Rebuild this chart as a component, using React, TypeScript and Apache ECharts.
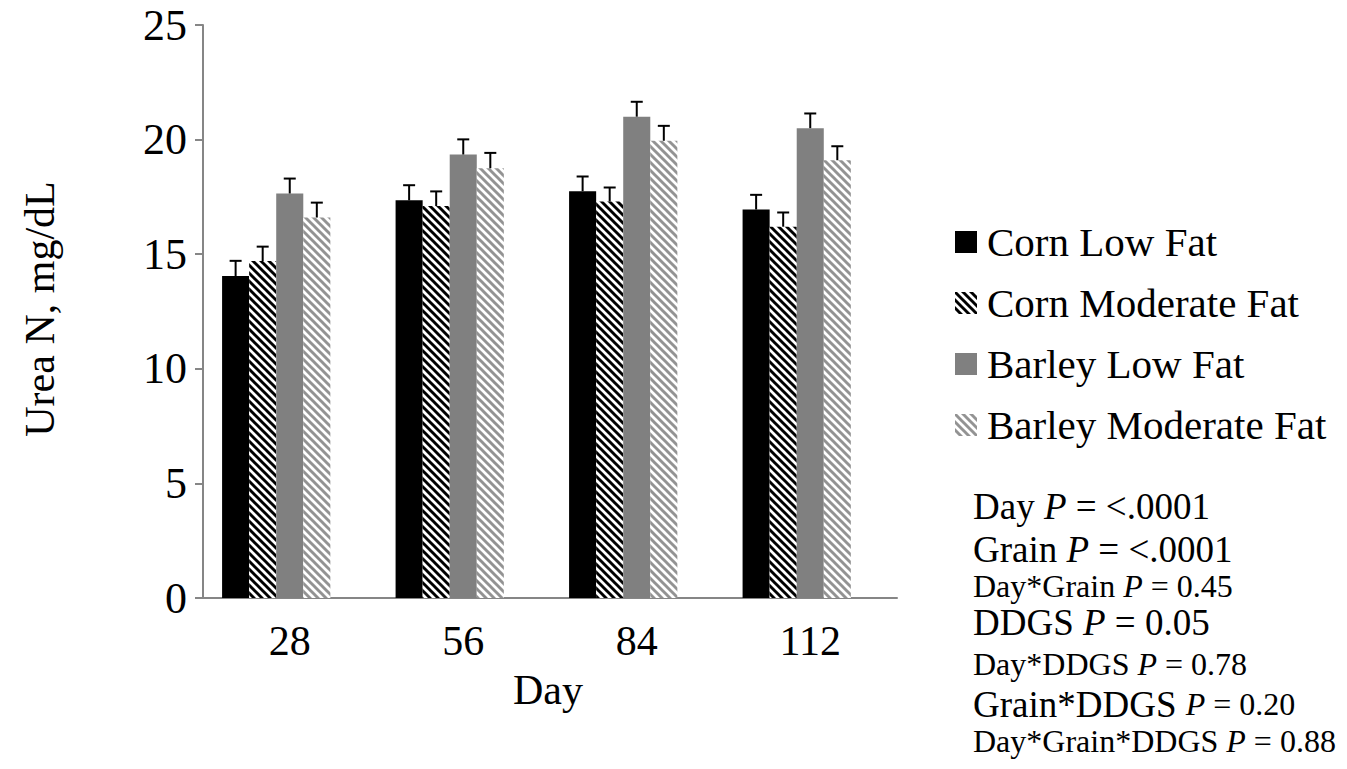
import React, { useEffect, useRef } from "react";
import * as echarts from "echarts";

const days = ["28", "56", "84", "112"];
const seriesNames = ["Corn Low Fat", "Corn Moderate Fat", "Barley Low Fat", "Barley Moderate Fat"];
const cornLow = [14.05, 17.35, 17.75, 16.95];
const cornMod = [14.7, 17.1, 17.3, 16.2];
const barleyLow = [17.65, 19.35, 21.0, 20.5];
const barleyMod = [16.6, 18.75, 19.95, 19.1];
const emptySlot = [null, null, null, null];
const seCornLow = [0.66, 0.66, 0.64, 0.64];
const seCornMod = [0.63, 0.64, 0.61, 0.62];
const seBarleyLow = [0.65, 0.66, 0.65, 0.64];
const seBarleyMod = [0.65, 0.67, 0.65, 0.61];
const yTicks = { min: 0, max: 25, interval: 5 };
const pLines = [
  { lead: "Day ", tail: " = <.0001", big: true, tailBig: true },
  { lead: "Grain ", tail: " = <.0001", big: true, tailBig: true },
  { lead: "Day*Grain ", tail: " = 0.45", big: false, tailBig: false },
  { lead: "DDGS ", tail: " = 0.05", big: true, tailBig: true },
  { lead: "Day*DDGS ", tail: " = 0.78", big: false, tailBig: false },
  { lead: "Grain*DDGS ", tail: " = 0.20", big: true, tailBig: false },
  { lead: "Day*Grain*DDGS ", tail: " = 0.88", big: false, tailBig: false },
];

const FONT = "Liberation Serif";
const CAT_GAP = 0.22;
const SLOTS = 5;

function stripe(color: string) {
  const svg =
    "<svg xmlns='http://www.w3.org/2000/svg' width='8' height='8'>" +
    "<rect width='8' height='8' fill='white'/>" +
    `<path d='M-2,-2 L10,10 M-10,-2 L2,10 M6,-2 L18,10' stroke='${color}' stroke-width='2.9'/>` +
    "</svg>";
  return {
    image: "data:image/svg+xml;utf8," + encodeURIComponent(svg),
    repeat: "repeat",
    imageWidth: 8,
    imageHeight: 8,
  } as any;
}

export default function App() {
  const ref = useRef<HTMLDivElement>(null);
  useEffect(() => {
    document.body.style.margin = "0";
    const chart = echarts.init(ref.current!, null, { renderer: "svg" });
    const values = [cornLow, cornMod, barleyLow, barleyMod];
    const ses = [seCornLow, seCornMod, seBarleyLow, seBarleyMod];
    const colors: any[] = ["#000000", stripe("#000000"), "#808080", stripe("#939393")];

    const bars: any[] = seriesNames.map((name, k) => ({
      type: "bar",
      name,
      data: values[k],
      barGap: "0%",
      barCategoryGap: CAT_GAP * 100 + "%",
      itemStyle: { color: colors[k] },
      z: 2,
    }));
    bars.push({
      type: "bar",
      name: "empty",
      data: emptySlot,
      barGap: "0%",
      barCategoryGap: CAT_GAP * 100 + "%",
      silent: true,
    });

    const errs = seriesNames.map((name, k) => ({
      type: "custom",
      name: name + " SE",
      data: values[k].map((v, i) => [i, v, ses[k][i]]),
      z: 5,
      renderItem: (params: any, api: any) => {
        const cat = api.value(0);
        const v = api.value(1);
        const e = api.value(2);
        const band = api.size([1, 0])[0];
        const w = (band * (1 - CAT_GAP)) / SLOTS;
        const base = api.coord([cat, v]);
        const top = api.coord([cat, v + e])[1];
        const x = base[0] + (k - (SLOTS - 1) / 2) * w;
        const st = { stroke: "#000", lineWidth: 2 };
        return {
          type: "group",
          children: [
            { type: "line", shape: { x1: x, y1: base[1], x2: x, y2: top }, style: st },
            { type: "line", shape: { x1: x - 6, y1: top, x2: x + 6, y2: top }, style: st },
          ],
        };
      },
    }));

    const graphics: any[] = [
      {
        type: "text",
        x: 40,
        y: 309,
        rotation: Math.PI / 2,
        style: {
          text: "Urea N, mg/dL",
          font: `42px ${FONT}`,
          fill: "#000",
          textAlign: "center",
          textVerticalAlign: "middle",
        },
      },
      {
        type: "text",
        x: 548,
        y: 690,
        style: {
          text: "Day",
          font: `42px ${FONT}`,
          fill: "#000",
          textAlign: "center",
          textVerticalAlign: "middle",
        },
      },
    ];
    const pY = [506, 549, 586, 622, 664, 704, 741];
    pLines.forEach((ln, i) => {
      const a = ln.big ? 37 : 32;
      const b = ln.tailBig ? 37 : 32;
      graphics.push({
        type: "text",
        x: 973,
        y: pY[i],
        style: {
          text: `{a|${ln.lead}}{p|P}{b|${ln.tail}}`,
          textVerticalAlign: "middle",
          fill: "#000",
          rich: {
            a: { fontFamily: FONT, fontSize: a, color: "#000" },
            p: { fontFamily: FONT, fontSize: b, fontStyle: "italic", color: "#000" },
            b: { fontFamily: FONT, fontSize: b, color: "#000" },
          },
        },
      });
    });

    chart.setOption({
      animation: false,
      backgroundColor: "#fff",
      grid: { left: 203, right: 450, top: 25, bottom: 171, containLabel: false },
      legend: {
        orient: "vertical",
        left: 955,
        top: 221,
        padding: 0,
        itemWidth: 22,
        itemHeight: 22,
        itemGap: 19,
        icon: "rect",
        data: seriesNames,
        selectedMode: false,
        textStyle: {
          fontFamily: FONT,
          fontSize: 41,
          color: "#000",
          lineHeight: 42,
          padding: [0, 0, 0, 5],
        },
      },
      xAxis: {
        type: "category",
        data: days,
        axisLine: { lineStyle: { color: "#868686", width: 2 } },
        axisTick: { length: 8, lineStyle: { color: "#868686", width: 2 } },
        axisLabel: { fontFamily: FONT, fontSize: 42, color: "#000", margin: 22 },
      },
      yAxis: {
        type: "value",
        min: yTicks.min,
        max: yTicks.max,
        interval: yTicks.interval,
        splitLine: { show: false },
        axisLine: { show: true, lineStyle: { color: "#868686", width: 2 } },
        axisTick: { show: true, length: 8, lineStyle: { color: "#868686", width: 2 } },
        axisLabel: { fontFamily: FONT, fontSize: 44, color: "#000", margin: 16 },
      },
      graphic: graphics,
      series: [...bars, ...errs],
    } as any);
    return () => chart.dispose();
  }, []);
  return <div ref={ref} style={{ width: 1347, height: 769 }} />;
}
